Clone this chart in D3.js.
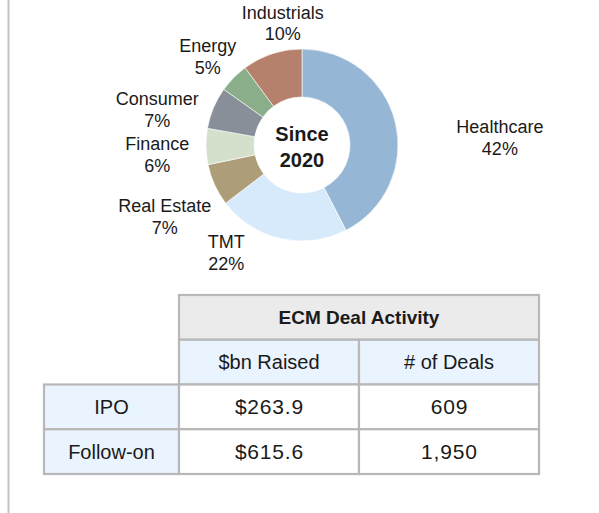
<!DOCTYPE html>
<html>
<head>
<meta charset="utf-8">
<script src="https://cdn.jsdelivr.net/npm/d3@7"></script>
<style>
  html, body { margin: 0; padding: 0; background: #fff; }
  svg { display: block; }
  text { font-family: "Liberation Sans", Arial, sans-serif; fill: #1a1a1a; }
</style>
</head>
<body>
<svg id="chart" width="599" height="513"></svg>
<script>
// ---- Data ----
const sectors = ["Healthcare", "TMT", "Real Estate", "Finance", "Consumer", "Energy", "Industrials"];
const shares = [42, 22, 7, 6, 7, 5, 10];
const centerLabel = ["Since", "2020"];

const tableTitle = "ECM Deal Activity";
const columnLabels = ["$bn Raised", "# of Deals"];
const rowLabels = ["IPO", "Follow-on"];
const raisedBn = [263.9, 615.6];
const dealCounts = [609, 1950];

// ---- Styles / layout ----
const colors = {
  "Healthcare": "#95b6d4",
  "TMT": "#d7eafc",
  "Real Estate": "#ad9e79",
  "Finance": "#d4dfcc",
  "Consumer": "#888f99",
  "Energy": "#8aae89",
  "Industrials": "#b5816d"
};
// label placement (polar: degrees clockwise from 12 o'clock, radius from centre)
const labelPolar = {
  "Healthcare": [88, 198],
  "TMT": [215, 132],
  "Real Estate": [242.3, 155],
  "Finance": [266, 145],
  "Consumer": [283.6, 149],
  "Energy": [313, 129],
  "Industrials": [351, 123]
};

const svg = d3.select("#chart");

// left rule
svg.append("line")
  .attr("x1", 8.5).attr("x2", 8.5).attr("y1", 0).attr("y2", 513)
  .attr("stroke", "#c4c4c4").attr("stroke-width", 2);

// ---- Donut ----
const cx = 302, cy = 145, rOuter = 96, rInner = 48;
const g = svg.append("g").attr("transform", `translate(${cx},${cy})`);
const data = sectors.map((s, i) => ({ sector: s, value: shares[i] }));
const pie = d3.pie().value(d => d.value).sort(null);
const arc = d3.arc().innerRadius(rInner).outerRadius(rOuter);
const arcs = pie(data);

g.selectAll("path.slice").data(arcs).join("path")
  .attr("class", "slice")
  .attr("d", arc)
  .attr("fill", d => colors[d.data.sector])
  .attr("stroke", "#ffffff")
  .attr("stroke-width", 0.6);

const lineH = 21.5;
const labels = g.selectAll("text.lbl").data(arcs).join("text")
  .attr("class", "lbl")
  .attr("text-anchor", "middle")
  .style("font-size", "18px")
  .attr("transform", d => {
    const [deg, r] = labelPolar[d.data.sector];
    const a = deg * Math.PI / 180;
    return `translate(${r * Math.sin(a)},${-r * Math.cos(a)})`;
  });
labels.append("tspan").attr("x", 0).attr("y", -lineH / 2 + 6).text(d => d.data.sector);
labels.append("tspan").attr("x", 0).attr("y", lineH / 2 + 6).text(d => d3.format("d")(d.data.value) + "%");

const cl = g.append("text").attr("text-anchor", "middle")
  .style("font-size", "20px").style("font-weight", "bold");
cl.append("tspan").attr("x", 0).attr("y", -4).text(centerLabel[0]);
cl.append("tspan").attr("x", 0).attr("y", 22).text(centerLabel[1]);

// ---- Table ----
const border = "#b8b8b8";
const headBg = "#ebebeb";
const blueBg = "#eaf4fe";
const xCols = [44, 179, 359, 539];   // column edges
const rowScale = d3.scaleBand().domain(d3.range(4)).range([295, 474]).padding(0);
const rh = rowScale.bandwidth();
const tg = svg.append("g");
const fmtMoney = v => "$" + d3.format(".1f")(v);
const fmtCount = d3.format(",");

const cells = [];
cells.push({ x0: xCols[1], x1: xCols[3], row: 0, text: tableTitle, bg: headBg, bold: true });
columnLabels.forEach((c, i) => cells.push({ x0: xCols[i + 1], x1: xCols[i + 2], row: 1, text: c, bg: blueBg }));
rowLabels.forEach((r, i) => {
  cells.push({ x0: xCols[0], x1: xCols[1], row: i + 2, text: r, bg: blueBg });
  cells.push({ x0: xCols[1], x1: xCols[2], row: i + 2, text: fmtMoney(raisedBn[i]), bg: "#ffffff", num: true });
  cells.push({ x0: xCols[2], x1: xCols[3], row: i + 2, text: fmtCount(dealCounts[i]), bg: "#ffffff", num: true });
});

tg.selectAll("rect.cell").data(cells).join("rect")
  .attr("class", "cell")
  .attr("x", d => d.x0).attr("y", d => rowScale(d.row))
  .attr("width", d => d.x1 - d.x0).attr("height", rh)
  .attr("fill", d => d.bg)
  .attr("stroke", border).attr("stroke-width", 2.2);

tg.selectAll("text.cell").data(cells).join("text")
  .attr("class", "cell")
  .attr("x", d => (d.x0 + d.x1) / 2 + (d.num ? 0.4 : 0))
  .attr("y", d => rowScale(d.row) + rh / 2 + 7)
  .attr("text-anchor", "middle")
  .style("font-size", d => d.bold ? "19px" : (d.num ? "21px" : "20px"))
  .style("letter-spacing", d => d.num ? "0.8px" : "0px")
  .style("font-weight", d => d.bold ? "bold" : "normal")
  .text(d => d.text);
</script>
</body>
</html>
